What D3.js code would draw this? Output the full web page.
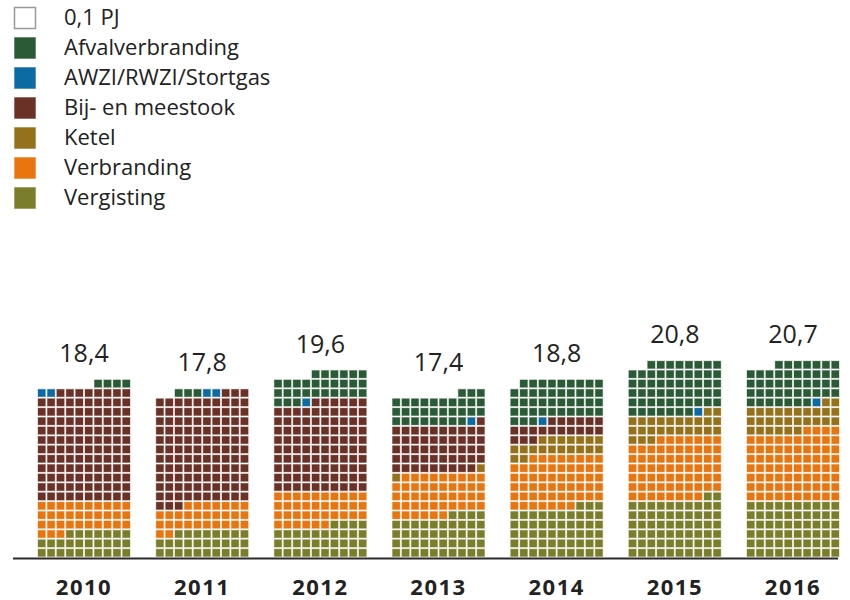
<!DOCTYPE html>
<html><head><meta charset="utf-8">
<script src="https://cdn.jsdelivr.net/npm/d3@7"></script>
<style>body{margin:0;background:#fff}svg{display:block}text{font-family:"Open Sans",sans-serif}</style>
</head><body><svg id="c" width="850" height="600"></svg>
<script>
const years = [2010, 2011, 2012, 2013, 2014, 2015, 2016];
const totals = [18.4, 17.8, 19.6, 17.4, 18.8, 20.8, 20.7];
const categories = ["Vergisting", "Verbranding", "Ketel", "Bij- en meestook", "AWZI/RWZI/Stortgas", "Afvalverbranding"];
const vergisting = [2.7, 2.8, 3.4, 4.4, 5.3, 6.2, 6.0];
const verbranding = [3.3, 2.9, 3.6, 4.5, 5.5, 6.5, 7.4];
const ketel = [0, 0, 0, 0.2, 1.9, 2.5, 2.8];
const bijMeestook = [11.8, 11.6, 9.6, 5.0, 1.9, 0, 0];
const awzi = [0.2, 0.2, 0.1, 0.1, 0.1, 0.1, 0.1];
const afval = [0.4, 0.3, 2.9, 3.1, 4.2, 5.5, 4.4];
const legendItems = ["0,1 PJ", "Afvalverbranding", "AWZI/RWZI/Stortgas", "Bij- en meestook", "Ketel", "Verbranding", "Vergisting"];
const colors = {
  "Afvalverbranding": "#2b5a37",
  "AWZI/RWZI/Stortgas": "#0b6ba2",
  "Bij- en meestook": "#6a3127",
  "Ketel": "#94711a",
  "Verbranding": "#e8750f",
  "Vergisting": "#7a7e2a"
};
const series = [vergisting, verbranding, ketel, bijMeestook, awzi, afval];
const unit = 0.1, perRow = 10;

const svg = d3.select("#c");
const x = d3.scalePoint().domain(years).range([84, 793]);
const colX = d3.scaleLinear().domain([0, perRow]).range([-47, 47]);
const rowY = d3.scaleLinear().domain([0, 25]).range([557.5, 557.5 - 25 * 9.4]);
const cellPad = 1;

// baseline
svg.append("line").attr("x1", 13).attr("x2", 838).attr("y1", 558.5).attr("y2", 558.5)
  .attr("stroke", "#2b2b2b").attr("stroke-width", 2);

years.forEach((yr, i) => {
  const cells = [];
  categories.forEach((cat, k) => {
    const n = Math.round(series[k][i] / unit);
    for (let j = 0; j < n; j++) cells.push(cat);
  });
  const g = svg.append("g").attr("transform", `translate(${x(yr)},0)`);
  g.selectAll("rect").data(cells).join("rect")
    .attr("x", (d, j) => colX(perRow - 1 - (j % perRow)) + cellPad)
    .attr("y", (d, j) => rowY(Math.floor(j / perRow) + 1) + cellPad)
    .attr("width", colX(1) - colX(0) - 2 * cellPad)
    .attr("height", rowY(0) - rowY(1) - 2 * cellPad)
    .attr("fill", d => colors[d])
    .attr("stroke", d => colors[d]).attr("stroke-opacity", 0.35).attr("stroke-width", 1);
  const rows = Math.ceil(cells.length / perRow);
  g.append("text").attr("x", 0).attr("y", rowY(rows) - 17)
    .attr("text-anchor", "middle").attr("font-size", 25).attr("fill", "#222")
    .text(d3.format(".1f")(totals[i]).replace(".", ","));
  g.append("text").attr("x", 0).attr("y", 595)
    .attr("text-anchor", "middle").attr("font-size", 22).attr("font-weight", 700)
    .attr("letter-spacing", 1.5).attr("fill", "#222")
    .text(yr);
});

// legend
const lg = svg.append("g");
legendItems.forEach((name, i) => {
  const y0 = 7.5 + i * 30;
  lg.append("rect").attr("x", 14.5).attr("y", y0).attr("width", 21).attr("height", 21)
    .attr("fill", i === 0 ? "#fff" : colors[name])
    .attr("stroke", i === 0 ? "#999" : colors[name]).attr("stroke-opacity", i === 0 ? 1 : 0.4)
    .attr("stroke-width", i === 0 ? 1.5 : 1);
  lg.append("text").attr("x", 64).attr("y", y0 + 17.5).attr("font-size", 22).attr("fill", "#222").text(name);
});
</script></body></html>
